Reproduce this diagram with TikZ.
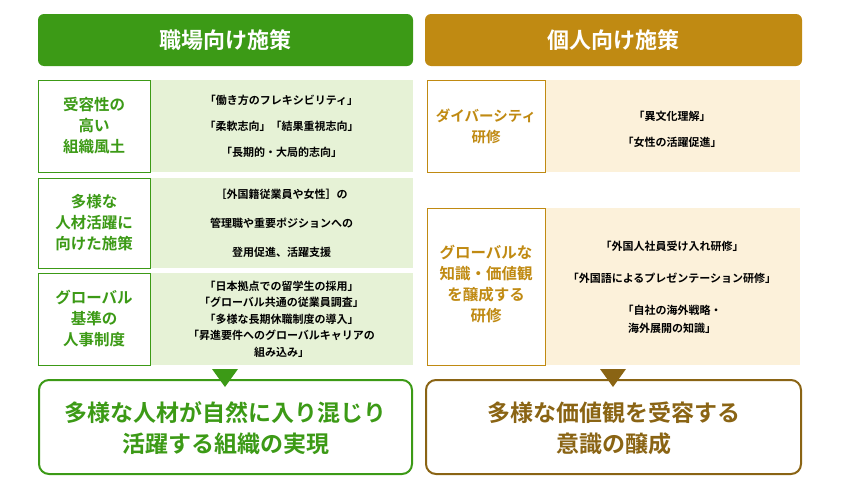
\documentclass[tikz,border=0pt]{standalone}
\usepackage{fontspec}
\setmainfont{Noto Sans CJK JP}[BoldFont={Noto Sans CJK JP Bold}]
\usetikzlibrary{positioning}
\definecolor{grn}{HTML}{3C9A16}
\definecolor{gld}{HTML}{C08A12}
\definecolor{brn}{HTML}{8A6414}
\definecolor{lgrn}{HTML}{E6F2D6}
\definecolor{lgld}{HTML}{FCF1DA}
\begin{document}
\begin{tikzpicture}[x=1pt,y=-1pt,
  head/.style={text=white, font=\bfseries\fontsize{22}{26}\selectfont},
  lab/.style={align=center, text=#1, font=\bfseries\fontsize{15.5}{21}\selectfont},
  cont/.style={align=center, font=\bfseries\fontsize{11}{#1}\selectfont},
  res/.style={align=center, text=#1, font=\bfseries\fontsize{23}{31}\selectfont}]
\useasboundingbox (0,0) rectangle (846,490);
% headers
\fill[grn, rounded corners=6pt] (38,14) rectangle (413,66);
\node[head] (hl) at (225.5,40) {職場向け施策};
\fill[gld, rounded corners=6pt] (425,14) rectangle (802,66);
\node[head] (hr) at (613.5,40) {個人向け施策};
% left rows
\fill[lgrn] (150,80) rectangle (413,172);
\fill[lgrn] (150,178) rectangle (413,268);
\fill[lgrn] (150,273) rectangle (413,365);
\draw[grn, line width=0.8pt, fill=white] (38,80) rectangle (150,172);
\draw[grn, line width=0.8pt, fill=white] (38,178) rectangle (150,268);
\draw[grn, line width=0.8pt, fill=white] (38,273) rectangle (150,365);
\node[lab=grn] (l1) at (94,126) {受容性の\\高い\\組織風土};
\node[lab=grn] (l2) at (94,223) {多様な\\人材活躍に\\向けた施策};
\node[lab=grn] (l3) at (94,319) {グローバル\\基準の\\人事制度};
\node[cont=26] (c1) at (281.5,126) {「働き方のフレキシビリティ」\\「柔軟志向」「結果重視志向」\\「長期的・大局的志向」};
\node[cont=29] (c2) at (281.5,223) {［外国籍従業員や女性］の\\管理職や重要ポジションへの\\登用促進、活躍支援};
\node[cont=16.5] (c3) at (281.5,319) {「日本拠点での留学生の採用」\\「グローバル共通の従業員調査」\\「多様な長期休職制度の導入」\\「昇進要件へのグローバルキャリアの\\組み込み」};
% right rows
\fill[lgld] (545,80) rectangle (800,172);
\fill[lgld] (545,208) rectangle (800,365);
\draw[gld, line width=0.8pt, fill=white] (427,80) rectangle (545,172);
\draw[gld, line width=0.8pt, fill=white] (427,208) rectangle (545,365);
\node[lab=gld, font=\bfseries\fontsize{14.5}{21}\selectfont] (r1) at (486,126) {ダイバーシティ\\研修};
\node[lab=gld] (r2) at (486,284) {グローバルな\\知識・価値観\\を醸成する\\研修};
\node[cont=26] (d1) at (672,129) {「異文化理解」\\「女性の活躍促進」};
\node[cont=18] (d2) at (672,287) {「外国人社員受け入れ研修」\\[14pt]「外国語によるプレゼンテーション研修」\\[14pt]「自社の海外戦略・\\海外展開の知識」};
% results
\draw[grn, line width=2pt, rounded corners=10pt, fill=white] (39,380) rectangle (412,474);
\node[res=grn] (o1) at (225.5,428) {多様な人材が自然に入り混じり\\活躍する組織の実現};
\draw[brn, line width=2pt, rounded corners=10pt, fill=white] (426,380) rectangle (801,474);
\node[res=brn] (o2) at (613.5,428) {多様な価値観を受容する\\意識の醸成};
% arrows
\fill[grn] (212,369) -- (238,369) -- (225,387) -- cycle;
\fill[brn] (600,369) -- (626,369) -- (613,387) -- cycle;
\end{tikzpicture}
\end{document}
